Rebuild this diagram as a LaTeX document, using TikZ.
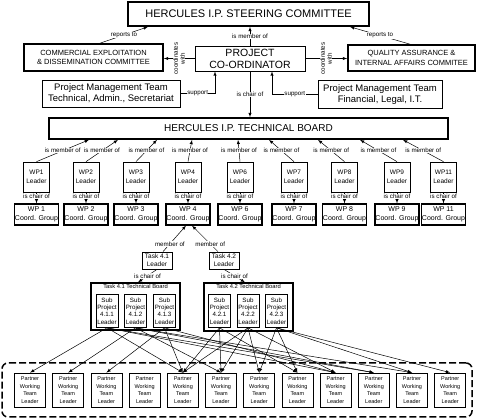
\documentclass[tikz,border=0pt]{standalone}
\usepackage{fontspec}
\setmainfont{Liberation Sans}
\usetikzlibrary{shapes,arrows}
\usetikzlibrary{calc}
\usetikzlibrary{positioning}

\begin{document}
\begin{tikzpicture}[x=1pt,y=-1pt,
  big_box/.style={draw,line width=1.6pt,align=center,inner sep=0pt},
  thin_box/.style={draw,line width=0.7pt,align=center,inner sep=0pt},
  lead_box/.style={thin_box,minimum width=26pt,minimum height=30pt,font=\fontsize{6.5}{9}\selectfont},
  grp_box/.style={big_box,line width=1.2pt,minimum width=44pt,minimum height=21pt,font=\fontsize{7}{9.5}\selectfont},
  task_box/.style={thin_box,minimum width=30pt,minimum height=17pt,font=\fontsize{6.5}{8}\selectfont},
  sub_box/.style={thin_box,minimum width=22pt,minimum height=33pt,font=\fontsize{6.2}{7.3}\selectfont},
  ptnr_box/.style={thin_box,minimum width=31pt,minimum height=34pt,font=\fontsize{5.5}{7.5}\selectfont},
  title_txt/.style={anchor=north,inner sep=0pt,font=\fontsize{5.8}{7}\selectfont},
  lbl/.style={fill=white,inner sep=0.4pt,font=\fontsize{6.2}{7}\selectfont},
  link/.style={-latex,line width=0.5pt}]
\useasboundingbox (0,0) rectangle (480,419);

\node[big_box,minimum width=241pt,minimum height=24pt,font=\fontsize{11}{13}\selectfont] (steer) at (248.5,14) {HERCULES I.P. STEERING COMMITTEE};
\node[thin_box,minimum width=110pt,minimum height=25pt,font=\fontsize{10.5}{12}\selectfont] (coord) at (250,58.5) {PROJECT\\CO-ORDINATOR};
\node[big_box,minimum width=139pt,minimum height=27pt,font=\fontsize{7.5}{9.5}\selectfont] (comm) at (93.5,57.5) {COMMERCIAL EXPLOITATION\\\& DISSEMINATION COMMITTEE};
\node[big_box,minimum width=127pt,minimum height=26pt,font=\fontsize{7.5}{9.5}\selectfont] (qa) at (411.5,58) {QUALITY ASSURANCE \&\\INTERNAL AFFAIRS COMMITEE};
\node[thin_box,minimum width=138pt,minimum height=27pt,font=\fontsize{9.5}{11}\selectfont] (pmt_tech) at (111,93.5) {Project Management Team\\Technical, Admin., Secretariat};
\node[thin_box,minimum width=124pt,minimum height=28pt,font=\fontsize{9.5}{11}\selectfont] (pmt_fin) at (380,94.5) {Project Management Team\\Financial, Legal, I.T.};
\node[big_box,minimum width=399pt,minimum height=21pt,font=\fontsize{10}{12}\selectfont] (tboard) at (248.5,128.5) {HERCULES I.P. TECHNICAL BOARD};

\path[link]
  ([xshift=6.5pt]comm.north) edge node[lbl]{reports to} ([xshift=-100.5pt]steer.south)
  ([xshift=-1.5pt]qa.north) edge node[lbl]{reports to} ([xshift=101.5pt]steer.south)
  (coord.north) edge node[lbl]{is member of} (coord.north |- steer.south)
  (coord.west) edge node[lbl,rotate=90,align=center]{coordinates\\with} (coord.west -| comm.east)
  (coord.east) edge node[lbl,rotate=90,align=center]{coordinates\\with} (coord.east -| qa.west)
  (coord.south) edge node[lbl]{is chair of} (coord.south |- tboard.north);
\draw[link] (pmt_tech.east) -| node[lbl,pos=0.25]{support} ([xshift=-35pt]coord.south);
\draw[link] (pmt_fin.west) -| node[lbl,pos=0.25]{support} ([xshift=22pt]coord.south);

\foreach \n/\x/\bx in {1/36.5/89,2/86/118,3/136/157,4/188/192,6/240/238,7/294/269,8/344.5/318,9/397/360,11/443.5/403}{
  \node[lead_box] (wl\n) at (\x,177) {WP\n\\Leader};
  \node[grp_box] (wg\n) at (\x,214.5) {WP \n\\Coord. Group};
  \path[link] (wl\n.north) edge node[lbl]{is member of} (tboard.south -| \bx,0)
              (wl\n) edge node[lbl,pos=0.4]{is chair of} (wg\n);
}

\node[task_box] (tl1) at (157,260.5) {Task 4.1\\Leader};
\node[task_box] (tl2) at (224,260.5) {Task 4.2\\Leader};
\path[link]
  ([xshift=6pt]tl1.north) edge node[lbl,pos=0.3]{member of} ([xshift=-2pt]wg4.south)
  ([xshift=-6pt]tl2.north) edge node[lbl,pos=0.3]{member of} ([xshift=4pt]wg4.south);

\node[big_box,line width=1.3pt,minimum width=89pt,minimum height=47pt] (tb1) at (135.5,306.5) {};
\node[big_box,line width=1.3pt,minimum width=89pt,minimum height=48pt] (tb2) at (248.5,307) {};
\node[title_txt] (tb1_title) at ([yshift=-2.2pt]tb1.north) {Task 4.1 Technical Board};
\node[title_txt] (tb2_title) at ([yshift=-2.2pt]tb2.north) {Task 4.2 Technical Board};
\path[link]
  (tl1.south) edge node[lbl]{is chair of} ([xshift=2.5pt]tb1.north)
  (tl2.south) edge node[lbl]{is chair of} ([xshift=-3.5pt]tb2.north);

\foreach \n/\x in {1/107,2/135.5,3/164.5}
  \node[sub_box] (s1\n) at (\x,311) {Sub\\Project\\4.1.\n\\Leader};
\foreach \n/\x in {1/219.5,2/248,3/276.5}
  \node[sub_box] (s2\n) at (\x,311) {Sub\\Project\\4.2.\n\\Leader};

\node[draw,line width=1.5pt,dash pattern=on 7pt off 3pt,rounded corners=6pt,minimum width=470pt,minimum height=54pt] (ptnr_grp) at (237,390) {};
\foreach \n in {1,...,12}
  \node[ptnr_box] (p\n) at ({30+38.2*(\n-1)},390) {Partner\\Working\\Team\\Leader};

\foreach \s/\p in {11/1,11/5,11/9,11/10,12/2,12/6,12/10,12/11,13/3,13/5,13/9,21/5,21/6,21/8,22/5,22/6,22/7,22/9,23/7,23/8,23/11,23/12}
  \draw[link] (s\s.south) -- (p\p.north);
\end{tikzpicture}
\end{document}
